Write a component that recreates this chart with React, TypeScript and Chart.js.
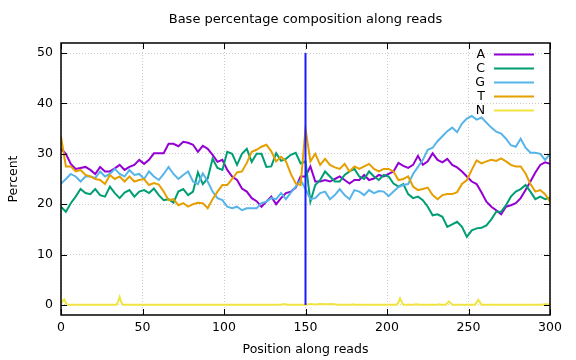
import React, { useEffect, useRef } from "react";
import { Chart, registerables } from "chart.js";

Chart.register(...registerables);

const chartTitle = "Base percentage composition along reads";
const xAxisTitle = "Position along reads";
const yAxisTitle = "Percent";

const xTicks = [0, 50, 100, 150, 200, 250, 300];
const yTicks = [0, 10, 20, 30, 40, 50];

const positions = [
  0, 3, 6, 9, 12, 15, 18, 21, 24, 27,
  30, 33, 36, 39, 42, 45, 48, 51, 54, 57,
  60, 63, 66, 69, 72, 75, 78, 81, 84, 87,
  90, 93, 96, 99, 102, 105, 108, 111, 114, 117,
  120, 123, 126, 129, 132, 135, 138, 141, 144, 147,
  150, 153, 156, 159, 162, 165, 168, 171, 174, 177,
  180, 183, 186, 189, 192, 195, 198, 201, 204, 207,
  210, 213, 216, 219, 222, 225, 228, 231, 234, 237,
  240, 243, 246, 249, 252, 255, 258, 261, 264, 267,
  270, 273, 276, 279, 282, 285, 288, 291, 294, 297,
  300,
];

const baseA = [
  31.0, 30.0, 28.0, 27.0, 27.2, 27.4, 26.8, 26.0, 27.4, 26.5,
  26.5, 27.1, 27.8, 26.8, 27.4, 27.8, 28.8, 28.0, 28.8, 30.1,
  30.1, 30.1, 32.0, 32.0, 31.5, 32.4, 32.2, 31.8, 30.4, 31.6,
  31.0, 29.8, 28.4, 28.8, 26.8, 25.5, 24.8, 23.1, 22.5, 21.2,
  20.6, 19.5, 20.5, 21.5, 20.0, 21.2, 22.2, 22.5, 23.3, 25.5,
  25.5, 27.5, 24.5, 24.5, 24.8, 24.5, 25.0, 25.5, 24.8, 24.1,
  24.8, 24.8, 25.8, 24.8, 25.1, 25.8, 25.5, 26.0, 26.5, 28.2,
  27.6, 27.2, 27.8, 29.6, 27.8, 28.5, 30.1, 28.8, 28.3, 29.0,
  27.8, 27.3, 26.5, 25.5, 24.5, 24.0, 22.3, 20.5, 19.5, 18.8,
  18.0, 19.5, 19.8, 20.2, 21.2, 22.8, 24.5, 26.3, 27.8, 28.3,
  28.0,
];

const baseC = [
  19.5, 18.5, 20.2, 21.5, 23.0, 22.2, 22.0, 23.0, 21.8, 21.5,
  23.5, 22.2, 21.2, 22.3, 22.8, 21.5, 22.5, 22.8, 22.2, 23.1,
  21.8, 20.8, 21.0, 20.3, 22.5, 23.0, 21.8, 22.5, 26.3, 24.0,
  25.1, 29.0, 27.2, 26.8, 30.4, 30.0, 27.8, 30.0, 31.0, 28.4,
  30.0, 30.0, 27.4, 27.5, 30.1, 28.6, 29.0, 29.8, 30.2, 28.1,
  28.5, 20.5, 23.8, 24.8, 26.5, 25.5, 24.5, 24.5, 25.8, 26.5,
  27.0, 25.5, 25.0, 26.5, 25.5, 24.8, 25.8, 25.5, 24.1, 23.5,
  24.0, 22.0, 21.2, 21.5, 20.8, 19.5, 17.8, 18.0, 17.5, 15.5,
  16.0, 16.5, 15.5, 13.5, 14.8, 15.2, 15.3, 15.8, 17.0, 18.5,
  18.5, 19.8, 21.5, 22.5, 23.0, 23.8, 22.5, 21.0, 21.5, 21.0,
  21.3,
];

const baseG = [
  24.1, 25.0, 26.0, 25.5, 24.5, 25.5, 25.5, 25.2, 26.5, 25.5,
  26.0, 27.0, 26.0, 25.5, 26.8, 25.8, 26.0, 25.0, 26.5, 25.5,
  24.8, 26.0, 27.4, 26.0, 25.0, 25.8, 26.5, 24.5, 24.0, 26.1,
  24.5, 22.5, 21.2, 20.8, 19.5, 19.2, 19.5, 18.8, 19.2, 19.2,
  19.2, 20.2, 20.5, 21.2, 21.0, 22.2, 21.0, 22.3, 23.5, 24.8,
  23.0, 21.0, 21.2, 22.2, 22.5, 21.0, 21.8, 23.0, 21.8, 21.0,
  22.8, 22.5, 21.8, 22.8, 22.2, 22.6, 22.5, 21.6, 22.5, 23.4,
  23.8, 24.0, 26.0, 27.4, 28.8, 30.8, 31.2, 32.5, 33.5, 34.5,
  35.2, 34.3, 36.0, 37.0, 37.5, 36.8, 37.2, 36.2, 35.2, 34.4,
  34.0, 33.0, 31.7, 31.4, 33.0, 31.2, 30.2, 30.2, 30.0, 28.8,
  30.0,
];

const baseT = [
  33.4, 27.5, 27.5, 26.5, 26.8, 25.8, 25.5, 25.0, 24.8, 24.0,
  25.8, 25.0, 25.5, 24.5, 25.5, 24.5, 24.8, 25.0, 23.8, 24.2,
  23.9, 22.5, 20.8, 21.0, 19.8, 20.2, 19.5, 20.0, 20.3, 20.2,
  19.2, 21.0, 22.5, 23.8, 23.8, 25.0, 26.3, 26.5, 28.2, 30.4,
  30.8, 31.4, 31.8, 30.5, 28.5, 29.4, 28.5, 26.0, 24.1, 23.8,
  35.0, 28.5, 30.0, 27.8, 29.0, 27.8, 27.3, 27.0, 28.0, 26.5,
  27.5, 27.0, 27.5, 28.0, 27.0, 26.5, 27.0, 27.0, 26.5, 24.8,
  25.0, 25.5, 23.5, 22.8, 23.0, 23.3, 21.8, 21.0, 21.8, 22.0,
  22.0, 22.4, 24.0, 24.8, 26.8, 28.7, 28.1, 28.5, 28.8, 28.6,
  29.1, 28.5, 27.8, 27.5, 27.5, 26.1, 24.0, 22.5, 22.8, 22.0,
  20.5,
];

const nPositions = [
  0, 1, 2, 3, 4, 34, 35, 36, 37, 38,
  135, 137, 139, 150, 153, 156, 159, 162, 166, 170,
  178, 179, 180, 206, 207, 208, 209, 210, 216, 218,
  220, 231, 232, 233, 236, 238, 240, 254, 256, 258,
  295, 297, 300,
];
const nValues = [
  0.3, 0.8, 1.1, 0.4, 0.05, 0.05, 0.6, 1.6, 0.5, 0.05,
  0.05, 0.2, 0.05, 0.05, 0.2, 0.1, 0.2, 0.15, 0.2, 0.05,
  0.05, 0.12, 0.05, 0.05, 0.5, 1.3, 0.6, 0.05, 0.05, 0.15,
  0.05, 0.05, 0.12, 0.05, 0.05, 0.7, 0.05, 0.05, 1.0, 0.05,
  0.05, 0.15, 0.1,
];

const markerX = [150, 150];
const markerY = [0, 50];

const seriesNames = ["A", "C", "G", "T", "N"];
const seriesColors = ["#9400d3", "#009e73", "#56b4e9", "#e69f00", "#f0e442"];

const FONT = "'DejaVu Sans', 'Liberation Sans', sans-serif";
const FONT_SIZE = 12.5;
const TITLE_SIZE = 13;

const toPoints = (xs: number[], ys: number[]) => xs.map((x, i) => ({ x, y: ys[i] }));

const framePlugin = {
  id: "gnuplotFrame",
  beforeDraw(chart: any) {
    const { ctx, width, height } = chart;
    ctx.save();
    ctx.fillStyle = "#ffffff";
    ctx.fillRect(0, 0, width, height);
    ctx.restore();
  },
  afterDraw(chart: any) {
    const { ctx, chartArea, scales } = chart;
    const { left, right, top, bottom } = chartArea;
    const xs = scales.x;
    const ys = scales.y;
    ctx.save();
    ctx.strokeStyle = "#000000";
    ctx.lineWidth = 1;
    ctx.beginPath();
    const tl = 6;
    xTicks.forEach((v) => {
      const px = Math.round(xs.getPixelForValue(v)) + 0.5;
      ctx.moveTo(px, bottom);
      ctx.lineTo(px, bottom - tl);
      ctx.moveTo(px, top);
      ctx.lineTo(px, top + tl);
    });
    yTicks.forEach((v) => {
      const py = Math.round(ys.getPixelForValue(v)) + 0.5;
      ctx.moveTo(left, py);
      ctx.lineTo(left + tl, py);
      ctx.moveTo(right, py);
      ctx.lineTo(right - tl, py);
    });
    ctx.stroke();
    ctx.lineWidth = 1.5;
    ctx.strokeRect(left, top, right - left, bottom - top);

    // title
    ctx.fillStyle = "#000000";
    ctx.font = `${TITLE_SIZE}px ${FONT}`;
    ctx.textAlign = "center";
    ctx.textBaseline = "middle";
    ctx.fillText(chartTitle, (left + right) / 2, 20);

    // key
    ctx.font = `${FONT_SIZE}px ${FONT}`;
    ctx.textAlign = "right";
    seriesNames.forEach((name, i) => {
      const y = 54.5 + i * 14;
      ctx.fillStyle = "#000000";
      ctx.fillText(name, 485, y);
      ctx.strokeStyle = seriesColors[i];
      ctx.lineWidth = 2;
      ctx.beginPath();
      ctx.moveTo(494, y);
      ctx.lineTo(534, y);
      ctx.stroke();
    });
    ctx.restore();
  },
};

export default function App() {
  const canvasRef = useRef<HTMLCanvasElement | null>(null);

  useEffect(() => {
    const canvas = canvasRef.current;
    if (!canvas) return;
    const seriesValues = [baseA, baseC, baseG, baseT];
    const datasets: any[] = seriesValues.map((vals, i) => ({
      label: seriesNames[i],
      data: toPoints(positions, vals),
      borderColor: seriesColors[i],
      backgroundColor: seriesColors[i],
      borderWidth: 2,
      pointRadius: 0,
      tension: 0,
      fill: false,
      order: 6 - i,
    }));
    datasets.push({
      label: seriesNames[4],
      data: toPoints(nPositions, nValues),
      borderColor: seriesColors[4],
      backgroundColor: seriesColors[4],
      borderWidth: 2,
      pointRadius: 0,
      tension: 0,
      fill: false,
      order: 2,
    });
    datasets.push({
      label: "marker",
      data: toPoints(markerX, markerY),
      borderColor: "#1a1aff",
      backgroundColor: "#1a1aff",
      borderWidth: 2,
      pointRadius: 0,
      fill: false,
      order: 1,
    });

    const font = { family: FONT, size: FONT_SIZE };
    const chart = new Chart(canvas, {
      type: "line",
      data: { datasets },
      plugins: [framePlugin],
      options: {
        animation: false,
        responsive: false,
        maintainAspectRatio: false,
        devicePixelRatio: 1,
        layout: { padding: { left: 0, right: 26, top: 43, bottom: 0 } },
        plugins: {
          legend: { display: false },
          title: { display: false },
          tooltip: { enabled: false },
        },
        scales: {
          x: {
            type: "linear",
            min: 0,
            max: 300,
            afterBuildTicks: (s: any) => {
              s.ticks = xTicks.map((v) => ({ value: v }));
            },
            afterFit: (s: any) => {
              s.height = 45;
            },
            grid: { color: "rgba(160,160,160,0.55)", drawTicks: false, lineWidth: 1 },
            border: { display: false, dash: [1, 2] },
            ticks: { color: "#000", font, padding: 5, maxRotation: 0, autoSkip: false },
            title: {
              display: true,
              text: xAxisTitle,
              color: "#000",
              font,
              padding: { top: 0, bottom: 3 },
            },
          },
          y: {
            type: "linear",
            min: -2,
            max: 52,
            afterBuildTicks: (s: any) => {
              s.ticks = yTicks.map((v) => ({ value: v }));
            },
            afterFit: (s: any) => {
              s.width = 61;
            },
            grid: { color: "rgba(160,160,160,0.55)", drawTicks: false, lineWidth: 1 },
            border: { display: false, dash: [1, 2] },
            ticks: { color: "#000", font, padding: 8, autoSkip: false },
            title: {
              display: true,
              text: yAxisTitle,
              color: "#000",
              font,
              padding: { top: 6, bottom: 0 },
            },
          },
        },
      } as any,
    });
    return () => chart.destroy();
  }, []);

  return (
    <div style={{ position: "fixed", left: 0, top: 0, width: 576, height: 360, background: "#fff" }}>
      <canvas ref={canvasRef} width={576} height={360} style={{ display: "block", width: 576, height: 360 }} />
    </div>
  );
}
